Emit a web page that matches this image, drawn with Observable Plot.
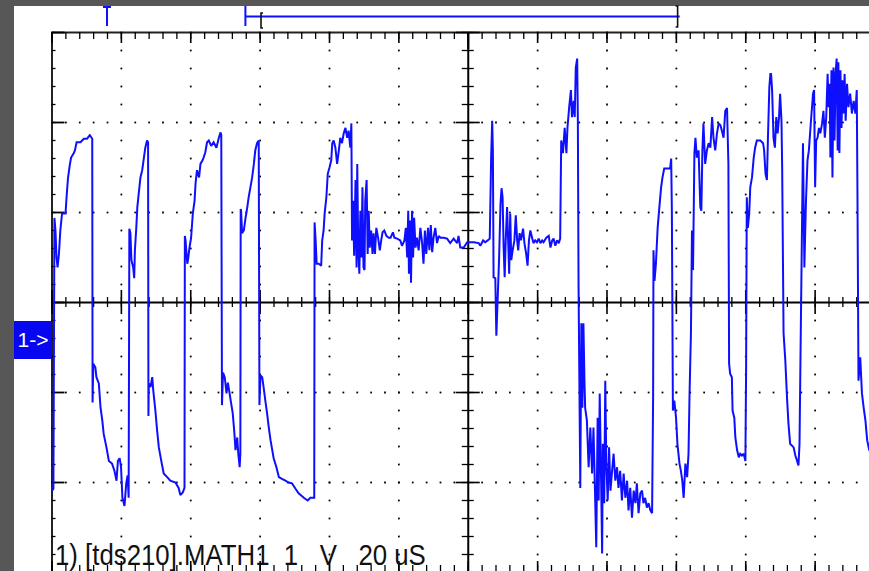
<!DOCTYPE html>
<html>
<head>
<meta charset="utf-8">
<script src="https://cdn.jsdelivr.net/npm/d3@7"></script>
<script src="https://cdn.jsdelivr.net/npm/@observablehq/plot@0.6"></script>
<style>
html, body { margin: 0; padding: 0; background: #575757; width: 869px; height: 571px; overflow: hidden; }
#wrap { position: relative; width: 869px; height: 571px; overflow: hidden; }
#chart { position: absolute; left: 0; top: 0; }
#marker { position: absolute; left: 14px; top: 321px; width: 38px; height: 38px; background: #0606f0; color: #fff;
  font: 21px "Liberation Sans", Arial, sans-serif; line-height: 38px; text-align: center; }
</style>
</head>
<body>
<div id="wrap"><div id="chart"></div><div id="marker">1-&gt;</div></div>
<script>
// ---- data: time (µs from left edge of record), amplitude (V) ----
const pulseTrainA = [
[0.1,-2.09],[0.4,-2.07],[0.7,0.94],[1.0,0.80],[1.3,0.50],[1.6,0.39],[2.0,0.54],[2.4,0.80],[2.9,0.99],[3.9,0.99],[4.2,1.17],[4.6,1.38],[5.1,1.52],[5.5,1.61],[6.3,1.66],[6.6,1.69],[7.1,1.78],[8.2,1.78],[9.2,1.82],[10.1,1.82],[10.9,1.86],[11.6,1.82],
[11.7,-1.11],[11.9,-0.68],[12.5,-0.72],[12.8,-0.83],[13.5,-0.90],[14.0,-1.17],[14.5,-1.31],[14.9,-1.46],[15.7,-1.61],[16.4,-1.76],[17.3,-1.79],[18.0,-1.87],[18.6,-1.98],[19.0,-1.76],[19.5,-1.73],[19.9,-1.83],[20.3,-2.17],[20.9,-2.26],[21.4,-2.01],[21.8,-1.92],[22.1,-2.17],
[22.3,0.82],[22.6,0.77],[22.9,0.47],[23.4,0.39],[23.7,0.27],[23.9,0.58],[24.3,0.83],[24.6,1.06],[25.0,1.21],[25.5,1.39],[26.0,1.47],[26.5,1.61],[26.9,1.72],[27.4,1.80],[27.7,1.78],
[27.8,-1.26],[27.9,-0.90],[28.4,-0.94],[28.9,-0.83],[29.2,-0.98],[29.8,-1.20],[30.3,-1.42],[30.8,-1.61],[31.5,-1.76],[32.2,-1.90],[33.2,-1.94],[34.1,-1.98],[35.6,-2.00],[36.5,-2.06],[37.0,-2.14],[37.7,-2.11],[38.2,-2.06],
[38.3,0.74],[38.5,0.69],[39.0,0.43],[39.3,0.50],[39.6,0.60],[40.1,0.72],[40.6,0.99],[41.1,1.13],[41.4,1.33],[41.8,1.47],[42.4,1.39],[42.8,1.54],[43.4,1.58],[43.7,1.61],[44.2,1.67],[44.7,1.78],[45.2,1.80],[45.9,1.74],[46.6,1.78],[47.4,1.72],[48.1,1.83],[48.6,1.89],[48.8,1.86],
[49.0,-1.14],[49.3,-0.78],[49.8,-0.83],[50.3,-1.01],[50.7,-0.89],[51.2,-1.01],[51.6,-1.11],[52.1,-1.23],[52.6,-1.46],[52.9,-1.64],[53.4,-1.50],[53.7,-1.68],[54.1,-1.83],[54.3,-1.68],
[54.4,1.04],[54.5,1.02],[54.8,0.77],[55.3,0.80],[55.8,0.94],[56.3,1.06],[56.7,1.17],[57.2,1.28],[57.7,1.39],[58.2,1.54],[58.6,1.69],[59.1,1.77],[59.6,1.80],[59.8,-1.14]
];
const lastPulseAndRinging = [
[60.1,-0.81],[60.6,-0.83],[61.0,-0.94],[61.5,-1.09],[62.0,-1.23],[62.5,-1.39],[63.0,-1.53],[63.5,-1.64],[63.9,-1.73],[64.7,-1.83],[65.4,-1.94],[66.3,-1.96],[67.3,-1.98],[68.2,-2.00],[69.2,-2.01],[70.2,-2.07],[71.1,-2.12],[72.6,-2.17],[73.7,-2.20],[74.5,-2.17],[75.6,-2.17],
[75.7,0.89],[76.0,0.69],[76.3,0.43],[76.9,0.43],[77.6,0.41],[77.9,0.69],[78.3,0.80],[78.6,0.99],[79.1,1.17],[79.5,1.43],[80.0,1.50],[80.5,1.58],[80.8,1.77],[81.2,1.80],[81.7,1.72],[82.2,1.54],[82.7,1.69],[83.1,1.83],[83.6,1.77],[84.1,1.88],[84.6,1.94],[85.1,1.83],[85.5,1.91],[86.0,1.72],[86.3,1.99],
[86.5,0.69],[86.8,1.13],[87.1,0.52],[87.5,1.36],[87.8,0.39],[88.0,1.54],[88.3,0.58],[88.6,0.32],[88.9,1.02],[89.2,0.50],[89.5,1.28],[89.8,0.39],[90.1,0.36],[90.3,1.13],[90.7,1.36],[91.0,0.54],[91.3,1.02],[91.6,0.61],[92.0,0.80],[92.4,0.54],[92.7,0.77],[93.1,0.54],[93.5,0.83],[94.0,0.72],[94.5,0.58],[94.9,0.69],[95.3,0.78],[95.8,0.80],[96.4,0.74],[97.1,0.72],[97.6,0.72],[98.3,0.78],[98.7,0.72],[99.5,0.71],[100.4,0.69],[100.9,0.63],[101.6,0.69],
[102.0,0.83],[102.4,0.50],[102.7,1.02],[102.9,0.32],[103.2,0.91],[103.5,0.22],[103.8,1.02],[104.1,0.50],[104.4,0.94],[104.8,0.61],[105.2,0.72],[105.7,0.58],[106.2,0.83],[106.7,0.66],[107.1,0.43],[107.5,0.80],[107.9,0.54],[108.4,0.83],[108.8,0.58],[109.2,0.86],[109.6,0.56],[110.0,0.72],[110.5,0.83],[111.0,0.66],[111.5,0.74],[112.0,0.72],[112.9,0.72],[113.9,0.71],[114.8,0.66],[115.8,0.71],[116.8,0.66],[117.2,0.74],[117.7,0.61],[118.7,0.61],[119.7,0.67],[121.6,0.67],[123.0,0.66]
];
const secondRinging = [
[123.5,0.63],[124.3,0.69],[124.9,0.67],[125.6,0.69],[126.2,0.71],[126.6,1.61],[126.9,2.02],[127.1,1.69],[127.3,0.28],[127.8,0.27],[128.1,-0.37],[128.5,0.06],[128.9,0.50],[129.3,1.10],[129.6,1.27],[129.9,1.17],[130.2,0.61],[130.5,0.28],[130.8,0.69],[131.2,1.06],[131.5,0.69],[131.8,0.32],[132.1,0.99],[132.4,0.47],[132.8,0.58],[133.3,0.69],[133.7,0.97],[134.1,0.69],[134.4,0.58],[134.8,0.77],[135.2,0.69],[135.8,0.82],[136.2,0.66],[136.7,0.54],[137.1,0.41],[137.5,0.69],[137.9,0.80],[138.4,0.72],[138.8,0.66],[139.3,0.69],[139.8,0.67],[140.3,0.71],[140.8,0.66],[141.3,0.69],[141.7,0.67],[142.5,0.72],[143.2,0.74],[143.7,0.61],[144.2,0.69],[144.6,0.71],[145.1,0.63],[145.6,0.69],[146.1,0.66],[146.5,0.71]
];
const noisyPulse = [
[146.8,1.80],[147.3,1.66],[147.8,1.94],[148.3,1.66],[148.6,1.94],[149.1,2.17],[149.6,2.36],[149.9,2.06],[150.4,2.24],[150.7,2.06],[151.0,2.61],[151.4,2.71],[151.6,2.02],[151.8,0.19],
[152.3,-2.06],[152.6,-0.23],[152.9,-1.17],[153.2,-0.23],[153.5,-0.87],[153.7,-1.17],[154.2,-1.31],[154.7,-1.83],[155.2,-1.39],[155.7,-1.90],[156.1,-1.39],[156.6,-2.20],[156.9,-2.72],[157.3,-1.28],[157.6,-2.20],[157.9,-1.01],[158.3,-1.98],[158.6,-2.79],[158.8,-1.57],[159.2,-2.23],[159.5,-0.87],[159.8,-1.79],[160.2,-2.20],[160.6,-1.61],[161.0,-2.09],[161.4,-1.90],[161.9,-1.68],[162.4,-1.98],[162.9,-1.83],[163.3,-2.06],[163.8,-1.87],[164.3,-2.20],[164.8,-1.90],[165.3,-2.17],[165.8,-1.98],[166.2,-2.31],[166.7,-2.06],[167.2,-2.39],[167.7,-2.09],[168.2,-2.23],[168.6,-2.01],[169.1,-2.34],[169.6,-2.12],[170.1,-2.09],[170.5,-2.23],[171.0,-2.17],[171.5,-2.28],[172.0,-2.23],[172.5,-2.31],[173.0,-2.34],
[173.3,-1.01],[173.4,0.58],[173.7,0.24],[174.1,0.43],[174.6,0.83],[175.1,1.06],[175.6,1.28],[176.0,1.39],[176.5,1.49],[177.3,1.49],[178.2,1.49],[178.5,1.60],[178.7,1.02],
[179.0,-1.20],[179.4,-1.09],[179.9,-1.28],[180.3,-1.57],[180.9,-1.79],[181.3,-1.87],[181.7,-1.98]
];
const pulseTrainB = [
[182.1,-2.17],[182.6,-1.79],[183.1,-1.94],[183.5,-1.68],[183.8,-1.01],[184.2,-0.34],[184.5,0.80],[184.8,0.36],[185.2,1.66],[185.5,1.83],[185.9,1.61],[186.4,1.69],[186.9,1.06],[187.2,1.02],[187.5,1.69],[187.8,1.99],[188.3,1.54],[188.8,1.69],[189.3,1.77],[189.8,1.72],[190.3,2.06],[190.7,1.83],[191.2,1.69],[191.7,1.88],[192.2,1.99],[192.7,1.97],[193.1,1.91],[193.6,1.83],[194.1,2.13],[194.6,2.16],[195.0,1.54],
[195.2,-0.68],[195.5,-0.79],[196.0,-0.83],[196.2,-1.20],[196.7,-1.28],[197.0,-1.50],[197.5,-1.64],[198.0,-1.72],[198.4,-1.68],[198.9,-1.70],[199.4,-1.68],[199.9,-1.76],
[200.1,-0.76],[200.3,1.17],[200.6,0.83],[201.0,0.99],[201.3,1.28],[201.8,1.39],[202.3,1.61],[202.7,1.72],[203.2,1.80],[204.2,1.80],[205.0,1.77],[205.3,1.69],[205.7,1.43],[206.1,1.36],[206.4,1.83],[206.8,2.39],[207.1,2.54],[207.3,2.54],[207.6,2.36],[208.0,1.83],[208.4,1.72],[208.8,2.06],[209.2,1.88],[209.6,2.06],[209.9,2.32],[210.3,2.02],[210.5,1.50],
[210.9,-0.34],[211.4,-0.64],[211.9,-1.06],[212.3,-1.34],[212.8,-1.57],[213.8,-1.61],[214.3,-1.70],[214.8,-1.76],[215.2,-1.81],[215.5,-1.57],
[215.9,-0.20],[216.5,1.77],[216.9,0.39],[217.2,0.88],[217.4,1.17],[217.8,1.58],[218.2,1.69],[218.8,2.02],[219.4,2.32],[219.7,2.36],[220.0,1.28],[220.3,1.80],[220.7,1.83],[221.1,1.94],[221.5,1.88],[222.0,1.99],[222.4,2.13],[222.8,1.83],[223.2,2.06],[223.6,2.54],[223.9,2.17],[224.2,2.43],[224.4,1.61],[224.7,2.58],[225.0,1.39],[225.3,2.61],[225.6,1.80],[225.9,2.54],[226.2,2.71],[226.5,1.69],[226.7,2.67],[227.0,1.66],[227.3,2.58],[227.6,1.94],[227.9,2.47],[228.2,2.10],[228.5,2.54],[228.8,2.02],[229.2,2.43],[229.6,2.17],[230.1,2.32],[230.6,2.10],[231.1,2.24],[231.6,2.10],[232.0,2.36],[232.2,1.24],
[232.5,-0.87],[233.0,-0.61],[233.5,-1.01],[234.0,-1.17],[234.5,-1.31],[235.0,-1.53],[235.6,-1.64]
];

// scope settings / annotations
const timePerDiv = 20;          // µs
const voltsPerDiv = 1;          // V
const recordDivs = 12;
const screenDivsV = 6;
const triggerUs = 16.0;
const windowStartUs = 55.9, windowEndUs = 181.1;
const bracketLeftUs = 60.4, bracketRightUs = 180.5;
const caption = "1) [tds210].MATH1\u00a0\u00a01\u00a0\u00a0\u00a0V\u00a0\u00a0\u00a020 uS";

const trace = [...pulseTrainA, ...lastPulseAndRinging, ...secondRinging, ...noisyPulse, ...pulseTrainB]
  .map(([t, v]) => ({t, v}));

const tMax = recordDivs * timePerDiv;          // 240 µs
const vMax = screenDivsV / 2 * voltsPerDiv;    // 3 V
const tCenter = tMax / 2;
const majorT = d3.range(0, tMax + 0.001, timePerDiv);
const minorT = d3.range(0, tMax + 0.001, timePerDiv / 5);
const majorV = d3.range(-vMax, vMax + 0.001, voltsPerDiv);
const minorV = d3.range(-vMax, vMax + 0.001, voltsPerDiv / 5);

const xRange = [51.5, 884], yRange = [572, 32];
const tpp = tMax / (xRange[1] - xRange[0]);   // µs per pixel (tick lengths)
const vpp = (2 * vMax) / (yRange[0] - yRange[1]); // V per pixel

const gridDots = [];
for (const v of majorV) if (v !== 0 && Math.abs(v) !== vMax) for (const t of minorT) gridDots.push({t, v});
for (const t of majorT) if (t !== tCenter && t !== 0) for (const v of minorV) gridDots.push({t, v});

const blue = "#0f0fff";
const ink = "#000";

const plot = Plot.plot({
  width: 869, height: 571,
  marginLeft: 0, marginRight: 0, marginTop: 0, marginBottom: 0,
  x: {domain: [0, tMax], range: xRange, axis: null},
  y: {domain: [-vMax, vMax], range: yRange, axis: null},
  style: {background: "none", overflow: "visible"},
  marks: [
    Plot.dot(gridDots, {x: "t", y: "v", r: 1, symbol: "square", fill: ink, stroke: null}),
    // frame
    Plot.ruleX([0], {y1: -vMax, y2: vMax, stroke: "#222", strokeWidth: 2}),
    Plot.ruleY([vMax, -vMax], {x1: 0, x2: tMax, stroke: "#222", strokeWidth: 2}),
    // top & bottom frame ticks
    Plot.ruleX(minorT, {y1: vMax, y2: vMax - 7 * vpp, stroke: ink, strokeWidth: 1.3}),
    Plot.ruleX(majorT, {y1: vMax, y2: vMax - 11 * vpp, stroke: ink, strokeWidth: 1.6}),
    Plot.ruleX([tCenter], {y1: vMax, y2: vMax - 17 * vpp, stroke: ink, strokeWidth: 2}),
    Plot.ruleX(minorT, {y1: -vMax, y2: -vMax + 7 * vpp, stroke: ink, strokeWidth: 1.3}),
    Plot.ruleX(majorT, {y1: -vMax, y2: -vMax + 11 * vpp, stroke: ink, strokeWidth: 1.6}),
    // left frame ticks
    Plot.ruleY(minorV, {x1: 0, x2: 4 * tpp, stroke: ink, strokeWidth: 1.3}),
    Plot.ruleY(majorV, {x1: 0, x2: 13 * tpp, stroke: ink, strokeWidth: 1.8}),
    // center axes
    Plot.ruleY([0], {x1: 0, x2: tMax, stroke: ink, strokeWidth: 2}),
    Plot.ruleX([tCenter], {y1: -vMax, y2: vMax, stroke: ink, strokeWidth: 2}),
    Plot.ruleX(minorT, {y1: -5 * vpp, y2: 5 * vpp, stroke: ink, strokeWidth: 1.3}),
    Plot.ruleX(majorT, {y1: -12 * vpp, y2: 12 * vpp, stroke: ink, strokeWidth: 1.6}),
    Plot.ruleY(minorV, {x1: tCenter - 6 * tpp, x2: tCenter + 6 * tpp, stroke: ink, strokeWidth: 1.3}),
    Plot.ruleY(majorV, {x1: tCenter - 12 * tpp, x2: tCenter + 12 * tpp, stroke: ink, strokeWidth: 1.6}),
    // waveform
    Plot.line(trace, {x: "t", y: "v", stroke: blue, strokeWidth: 2, strokeLinejoin: "miter", strokeMiterlimit: 2})
  ]
});

document.getElementById("chart").appendChild(plot);

const X = t => plot.scale("x").apply(t);
const svg = d3.select(plot);
svg.insert("rect", ":first-child").attr("x", 14).attr("y", 6).attr("width", 855).attr("height", 565).attr("fill", "#fff");

const markG = svg.append("g");
// trigger position "T"
markG.append("line").attr("x1", X(triggerUs)).attr("x2", X(triggerUs)).attr("y1", 6).attr("y2", 26).attr("stroke", blue).attr("stroke-width", 2);
markG.append("line").attr("x1", X(triggerUs) - 4).attr("x2", X(triggerUs) + 4).attr("y1", 7).attr("y2", 7).attr("stroke", blue).attr("stroke-width", 2);
// record window
markG.append("line").attr("x1", X(windowStartUs)).attr("x2", X(windowStartUs)).attr("y1", 6).attr("y2", 26).attr("stroke", blue).attr("stroke-width", 2);
markG.append("line").attr("x1", X(windowStartUs)).attr("x2", X(windowEndUs)).attr("y1", 16.5).attr("y2", 16.5).attr("stroke", blue).attr("stroke-width", 2);
// brackets
const bl = X(bracketLeftUs), br = X(bracketRightUs);
markG.append("path").attr("d", `M${bl + 2},13 H${bl} V28 H${bl + 2}`).attr("fill", "none").attr("stroke", "#111").attr("stroke-width", 1.6);
markG.append("path").attr("d", `M${br - 2},6 H${br} V27 H${br - 2}`).attr("fill", "none").attr("stroke", "#111").attr("stroke-width", 1.6);

svg.append("text")
  .attr("transform", "translate(55,565) scale(0.86,1)")
  .attr("text-anchor", "start")
  .attr("font-family", "'Liberation Sans', Arial, sans-serif")
  .attr("font-size", 30)
  .attr("fill", "#111")
  .text(caption);
</script>
</body>
</html>
